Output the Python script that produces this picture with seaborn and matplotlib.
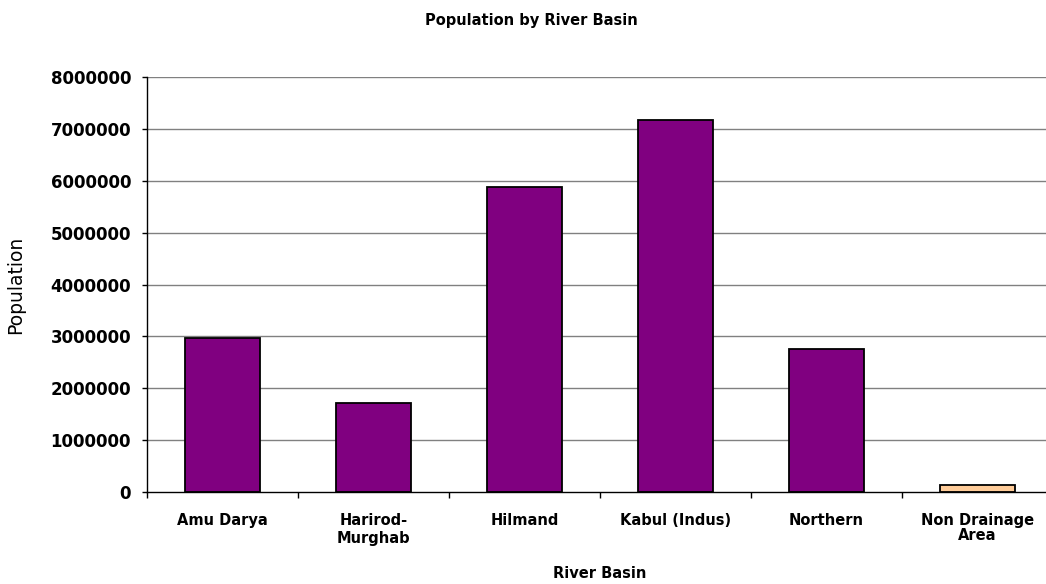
import matplotlib
matplotlib.use("Agg")
import matplotlib.pyplot as plt
import seaborn as sns
import pandas as pd
from matplotlib.ticker import FixedLocator

basins = ["Amu Darya", "Harirod-\nMurghab", "Hilmand", "Kabul (Indus)", "Northern", "Non Drainage\nArea"]
population = [2965000, 1710000, 5880000, 7165000, 2765000, 130000]
bar_colors = ["#800080", "#800080", "#800080", "#800080", "#800080", "#FFCC99"]
yticks = [0, 1000000, 2000000, 3000000, 4000000, 5000000, 6000000, 7000000, 8000000]

sns.set_style("white")
plt.rcParams['font.family'] = ['DejaVu Sans']
plt.rcParams['text.color'] = 'black'
plt.rcParams['axes.labelcolor'] = 'black'
plt.rcParams['xtick.color'] = 'black'
plt.rcParams['ytick.color'] = 'black'

df = pd.DataFrame({"basin": basins, "pop": population})

fig = plt.figure(figsize=(10.46, 5.84), dpi=100)
ax = fig.add_axes([147/1046, 1-492/584, 906/1046, 415/584])
ax.set_axisbelow(True)
for v in yticks[1:]:
    ax.axhline(v, color="#808080", lw=1.0, zorder=0)

sns.barplot(data=df, x="basin", y="pop", hue="basin", palette=bar_colors,
            legend=False, width=0.5, edgecolor="black", linewidth=1.3,
            saturation=1, ax=ax, zorder=2)

ax.set_xlim(-0.5, 5.5)
ax.set_ylim(0, 8000000)
ax.set_yticks(yticks)
ax.set_yticklabels([str(v) for v in yticks], fontsize=12, fontweight="bold")
ax.tick_params(axis="y", direction="out", length=3.5, width=1, color="black", pad=8, left=True)
ax.tick_params(axis="x", which="major", length=0, pad=15)
ax.xaxis.set_minor_locator(FixedLocator([i - 0.5 for i in range(len(basins) + 1)]))
ax.tick_params(axis="x", which="minor", direction="out", length=4, width=1, color="black", bottom=True)
for i, lab in enumerate(ax.get_xticklabels()):
    lab.set_fontweight("bold")
    lab.set_fontsize(10.5)
    if i == 5:
        lab.set_linespacing(1.0)
    else:
        lab.set_linespacing(1.25)

for s in ["top", "right"]:
    ax.spines[s].set_visible(False)
ax.spines["left"].set_color("black")
ax.spines["bottom"].set_color("black")
ax.spines["left"].set_linewidth(1)
ax.spines["bottom"].set_linewidth(1)

ax.set_xlabel("River Basin", fontsize=10.5, fontweight="bold")
ax.xaxis.set_label_coords(0.5, (492 - 566) / 415)
ax.set_ylabel("Population", fontsize=13.5)
ax.yaxis.set_label_coords((25 - 147) / 906, 0.5)
fig.text(531/1046, 1 - 20/584, "Population by River Basin", ha="center", va="center",
         fontsize=10.5, fontweight="bold")

fig.savefig("out.png", dpi=100)
